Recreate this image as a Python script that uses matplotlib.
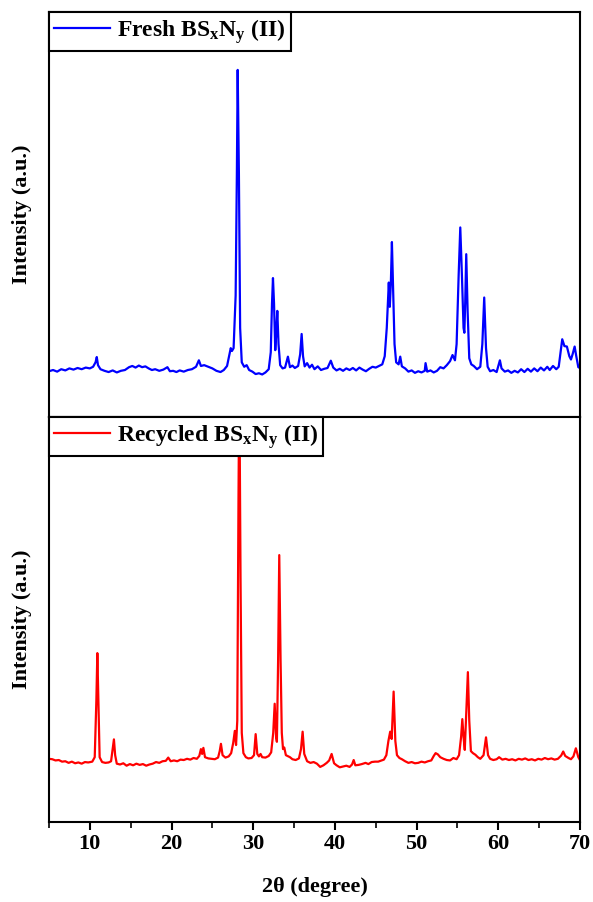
import matplotlib
matplotlib.use("Agg")
import matplotlib.pyplot as plt
from matplotlib.ticker import MultipleLocator

plt.rcParams['font.family'] = ['Liberation Serif', 'DejaVu Serif']
plt.rcParams['font.weight'] = 'bold'
plt.rcParams['mathtext.fontset'] = 'custom'
plt.rcParams['mathtext.rm'] = 'Liberation Serif:bold'
plt.rcParams['mathtext.it'] = 'Liberation Serif:bold'
plt.rcParams['mathtext.bf'] = 'Liberation Serif:bold'

# fresh sample, 2theta (degree) and intensity (a.u.)
fresh_2t = [5.0, 5.5, 6.0, 6.5, 7.0, 7.5, 8.0, 8.5, 9.0, 9.5, 10.0, 10.4, 10.7, 10.85, 11.0, 11.3, 11.8,
            12.3, 12.8, 13.3, 13.8, 14.3, 14.8, 15.2, 15.6, 16.0, 16.4, 16.8, 17.2, 17.6, 18.0, 18.5,
            19.0, 19.5, 19.8, 20.2, 20.6, 21.0, 21.5, 22.0, 22.5, 23.0, 23.35, 23.6, 24.0, 24.5, 25.0,
            25.5, 26.0, 26.4, 26.8, 27.1, 27.25, 27.4, 27.6, 27.85, 28.0, 28.1, 28.25, 28.4, 28.6, 28.9,
            29.2, 29.5, 29.9, 30.3, 30.7, 31.1, 31.5, 31.9, 32.15, 32.3, 32.42, 32.55, 32.7, 32.8, 32.95,
            33.1, 33.3, 33.6, 33.9, 34.25, 34.5, 34.8, 35.1, 35.5, 35.75, 35.93, 36.1, 36.3, 36.6, 36.9,
            37.2, 37.5, 37.9, 38.3, 38.7, 39.1, 39.5, 39.8, 40.2, 40.6, 41.0, 41.4, 41.8, 42.2, 42.6,
            43.0, 43.4, 43.8, 44.2, 44.6, 45.0, 45.4, 45.8, 46.1, 46.35, 46.6, 46.72, 46.85, 46.98, 47.12,
            47.3, 47.5, 47.8, 48.0, 48.2, 48.6, 49.0, 49.4, 49.8, 50.2, 50.6, 51.0, 51.1, 51.3, 51.7,
            52.1, 52.5, 52.9, 53.3, 53.7, 54.1, 54.4, 54.7, 54.9, 55.15, 55.35, 55.55, 55.75, 55.85, 55.95,
            56.08, 56.25, 56.45, 56.7, 57.0, 57.4, 57.8, 58.05, 58.28, 58.5, 58.7, 59.0, 59.4, 59.8, 60.2,
            60.4, 60.8, 61.2, 61.6, 62.0, 62.4, 62.8, 63.2, 63.6, 64.0, 64.4, 64.8, 65.2, 65.6, 66.0,
            66.3, 66.7, 67.1, 67.4, 67.6, 67.83, 68.1, 68.4, 68.7, 68.9, 69.1, 69.35, 69.55, 69.8, 70.0]
fresh_int = [11.3, 11.6, 11.2, 11.8, 11.5, 12.0, 11.7, 12.1, 11.8, 12.2, 12.0, 12.4, 13.5, 14.8, 12.8, 11.8, 11.4,
             11.1, 11.5, 11.0, 11.4, 11.6, 12.3, 12.6, 12.2, 12.7, 12.3, 12.5, 12.0, 11.6, 11.8, 11.4,
             11.7, 12.3, 11.3, 11.4, 11.1, 11.5, 11.2, 11.6, 11.8, 12.4, 14.0, 12.6, 12.8, 12.4, 12.0,
             11.4, 11.1, 11.6, 12.6, 15.5, 17.0, 16.3, 17.0, 30.0, 60.0, 85.7, 60.0, 22.0, 13.5, 12.4,
             12.8, 11.6, 11.2, 10.6, 10.8, 10.5, 11.0, 11.8, 16.0, 28.0, 34.3, 28.0, 16.5, 20.0, 26.2,
             18.0, 12.8, 12.0, 12.2, 14.9, 12.3, 12.7, 12.1, 12.6, 15.5, 20.5, 15.0, 12.5, 13.3, 12.2,
             12.9, 11.8, 12.5, 11.6, 11.9, 12.1, 13.9, 12.2, 11.5, 11.9, 11.4, 12.0, 11.6, 12.1, 11.5,
             12.2, 11.7, 11.3, 11.9, 12.4, 12.2, 12.6, 13.0, 15.0, 22.0, 33.2, 27.2, 33.0, 43.2, 32.0,
             18.0, 13.5, 13.0, 14.9, 12.5, 12.0, 11.2, 11.5, 10.9, 11.3, 11.0, 11.4, 13.3, 11.2, 11.5,
             11.0, 11.4, 12.3, 12.0, 12.8, 13.8, 15.3, 14.0, 18.0, 35.0, 46.8, 35.0, 22.0, 20.8, 28.0,
             40.2, 26.0, 14.5, 13.0, 12.6, 11.8, 12.4, 18.0, 29.5, 17.0, 12.4, 11.3, 11.6, 11.1, 14.0,
             12.0, 11.2, 11.5, 10.9, 11.4, 11.0, 11.8, 11.1, 11.9, 11.2, 12.0, 11.3, 12.2, 11.5, 12.4,
             11.6, 12.6, 11.8, 12.4, 15.5, 19.2, 17.5, 17.4, 15.0, 14.2, 15.5, 17.4, 15.0, 12.3, 12.1]

# recycled sample
recyc_2t = [5.0, 5.4, 5.8, 6.2, 6.6, 7.0, 7.4, 7.8, 8.2, 8.6, 9.0, 9.4, 9.8, 10.3, 10.6, 10.8, 10.92, 11.05,
            11.2, 11.5, 11.9, 12.3, 12.6, 12.8, 12.95, 13.1, 13.3, 13.7, 14.1, 14.5, 14.9, 15.3, 15.7,
            16.1, 16.5, 16.9, 17.3, 17.7, 18.1, 18.5, 18.9, 19.3, 19.6, 19.9, 20.3, 20.7, 21.1, 21.5,
            21.9, 22.3, 22.7, 23.1, 23.4, 23.6, 23.75, 23.9, 24.1, 24.5, 24.9, 25.3, 25.7, 25.9, 26.05,
            26.25, 26.6, 27.0, 27.3, 27.55, 27.75, 27.9, 28.05, 28.2, 28.3, 28.45, 28.6, 28.8, 29.1, 29.4,
            29.8, 30.1, 30.3, 30.5, 30.7, 30.9, 31.1, 31.5, 31.9, 32.2, 32.45, 32.63, 32.8, 32.9, 33.05,
            33.19, 33.35, 33.5, 33.65, 33.8, 34.0, 34.3, 34.5, 34.8, 35.2, 35.6, 35.85, 36.05, 36.25, 36.6,
            37.0, 37.4, 37.8, 38.2, 38.6, 39.0, 39.3, 39.6, 39.9, 40.2, 40.6, 41.0, 41.4, 41.8, 42.1,
            42.3, 42.5, 42.9, 43.3, 43.75, 44.1, 44.5, 44.9, 45.3, 45.7, 46.0, 46.3, 46.55, 46.77, 46.95,
            47.19, 47.4, 47.6, 47.9, 48.2, 48.6, 49.0, 49.4, 49.8, 50.2, 50.6, 51.0, 51.4, 51.8, 52.1,
            52.33, 52.6, 52.9, 53.3, 53.7, 54.1, 54.5, 54.9, 55.2, 55.45, 55.6, 55.75, 55.9, 56.1, 56.28,
            56.45, 56.65, 56.9, 57.2, 57.5, 57.8, 58.2, 58.5, 58.75, 59.0, 59.4, 59.8, 60.1, 60.5, 60.9,
            61.3, 61.7, 62.1, 62.5, 62.9, 63.3, 63.7, 64.1, 64.5, 64.9, 65.3, 65.7, 66.1, 66.5, 66.9,
            67.3, 67.7, 67.95, 68.2, 68.6, 68.9, 69.2, 69.5, 69.8, 70.0]
recyc_int = [15.6, 15.5, 15.2, 15.3, 14.9, 15.0, 14.6, 14.9, 14.5, 14.7, 14.4, 14.8, 14.7, 14.9, 16.0, 30.0, 41.7, 30.0,
             16.0, 14.8, 14.6, 14.7, 15.0, 18.0, 20.4, 16.5, 14.4, 14.2, 14.5, 13.9, 14.3, 14.0, 14.4,
             14.1, 14.3, 13.9, 14.2, 14.4, 14.8, 14.6, 15.0, 15.1, 15.9, 15.0, 15.2, 15.0, 15.4, 15.3,
             15.6, 15.4, 15.8, 15.6, 16.3, 18.0, 16.8, 18.3, 16.0, 15.7, 15.6, 15.5, 15.9, 17.5, 19.3,
             16.5, 15.9, 16.2, 17.0, 19.5, 22.5, 19.0, 25.0, 80.0, 110.0, 60.0, 22.0, 17.0, 16.0, 15.7,
             15.8, 16.5, 21.7, 16.8, 16.2, 16.8, 16.0, 15.9, 16.3, 17.2, 22.0, 29.2, 21.0, 19.8, 40.0,
             65.9, 40.0, 22.0, 18.0, 18.4, 16.5, 16.2, 16.0, 15.5, 15.3, 15.7, 18.0, 22.3, 16.8, 15.0,
             14.6, 14.8, 14.4, 13.6, 14.0, 14.6, 15.2, 16.8, 14.5, 14.0, 13.5, 13.7, 13.9, 13.6, 14.2,
             15.3, 14.0, 14.1, 14.3, 14.6, 14.3, 14.8, 14.9, 14.9, 15.2, 15.4, 16.5, 20.0, 22.3, 20.5,
             32.2, 20.0, 16.5, 15.8, 15.5, 15.0, 14.6, 14.8, 14.5, 14.6, 14.9, 14.7, 15.0, 15.2, 16.3,
             17.0, 16.7, 16.0, 15.6, 15.3, 15.2, 15.8, 15.5, 16.5, 21.0, 25.4, 21.0, 17.8, 28.0, 37.0,
             25.0, 17.5, 17.0, 16.6, 16.0, 15.6, 16.5, 20.9, 16.5, 15.6, 15.3, 15.5, 16.0, 15.4, 15.6,
             15.3, 15.5, 15.2, 15.6, 15.4, 15.7, 15.3, 15.5, 15.2, 15.6, 15.4, 15.8, 15.5, 15.7, 15.4,
             15.6, 16.4, 17.4, 16.3, 15.8, 15.5, 16.2, 18.2, 16.0, 15.3]

labels = [r'Fresh BS$_\mathrm{x}$N$_\mathrm{y}$ (II)', r'Recycled BS$_\mathrm{x}$N$_\mathrm{y}$ (II)']

fig = plt.figure(figsize=(5.93, 9.02), dpi=100)
ax1 = fig.add_axes([0.0826, 0.5377, 0.8954, 0.449])
ax2 = fig.add_axes([0.0826, 0.0887, 0.8954, 0.449], sharex=ax1)

ax1.plot(fresh_2t, fresh_int, color='#0000FF', lw=1.6, label=labels[0])
ax2.plot(recyc_2t, recyc_int, color='#FF0000', lw=1.6, label=labels[1])

for ax in (ax1, ax2):
    ax.set_xlim(5, 70)
    ax.set_ylim(0, 100)
    ax.set_yticks([])
    ax.set_ylabel('Intensity (a.u.)', fontsize=16, fontweight='bold', labelpad=12)
    for s in ax.spines.values():
        s.set_linewidth(1.5)
    leg = ax.legend(loc='upper left', borderaxespad=0, fontsize=17, handlelength=2.35,
                    fancybox=False, framealpha=1, edgecolor='black',
                    borderpad=0.22, handletextpad=0.3)
    leg.get_frame().set_linewidth(1.5)

ax2.xaxis.set_major_locator(MultipleLocator(10))
ax2.xaxis.set_minor_locator(MultipleLocator(5))
ax2.tick_params(axis='x', which='major', direction='out', length=6, width=1.5, labelsize=16, pad=3)
ax2.tick_params(axis='x', which='minor', direction='out', length=4, width=1.2)
ax1.tick_params(axis='x', which='both', length=0, labelbottom=False)
for lab in ax2.get_xticklabels():
    lab.set_fontweight('bold')
ax2.set_xlabel('2θ (degree)', fontsize=16, fontweight='bold', labelpad=16)

fig.savefig('out.png', dpi=100)
